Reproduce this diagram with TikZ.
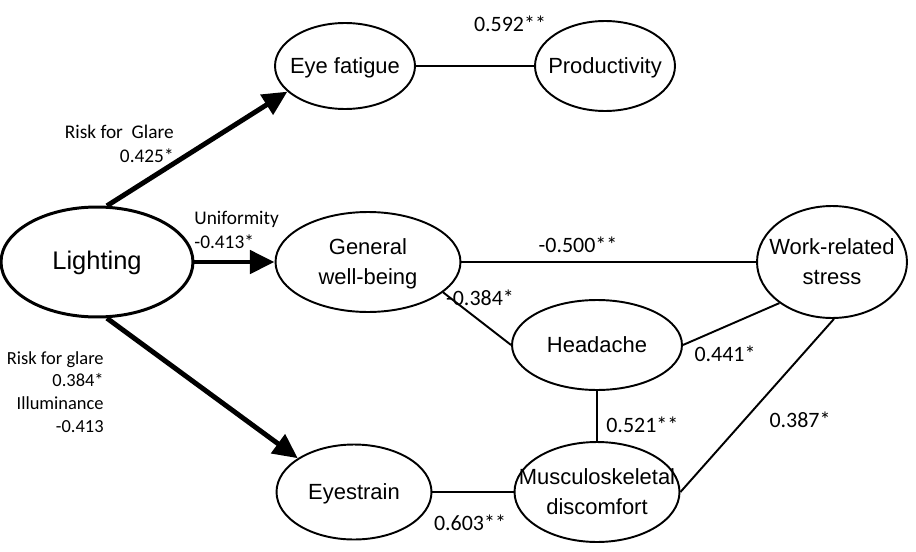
\documentclass[tikz,border=0pt]{standalone}
\usepackage{fontspec}
\setmainfont{Liberation Sans}
\newfontfamily\lblfont{Carlito}
\usepackage{tikz}
\usetikzlibrary{shapes,arrows.meta}
\newcommand{\ovaltext}[1]{\smash{\makebox[0pt]{\raisebox{-0.3em}{\begin{tabular}{@{}c@{}}#1\end{tabular}}}}}

\begin{document}
\begin{tikzpicture}[x=0.02cm, y=-0.02cm]
\tikzstyle{every node}=[inner sep=0pt]
\tikzstyle{oval}=[ellipse, draw, line width=1.1pt,
                  font=\fontsize{12.5}{17}\selectfont]
\tikzstyle{corr}=[line width=1.1pt]
\tikzstyle{effect}=[line width=2.8pt, -{Triangle[length=14pt,width=13pt]}]
\tikzstyle{coef}=[font=\lblfont\fontsize{12.5}{14}\selectfont]
\tikzstyle{coefsmall}=[font=\lblfont\fontsize{11}{13.5}\selectfont]
\useasboundingbox (0,0) rectangle (916,551);
\node[oval, line width=1.7pt, minimum width=3.84cm, minimum height=2.2cm,
      font=\fontsize{14.5}{17}\selectfont] (L) at (97,262) {\ovaltext{Lighting}};
\node[oval, minimum width=2.8cm, minimum height=1.72cm] (EF) at (345,66) {\ovaltext{Eye fatigue}};
\node[oval, minimum width=2.8cm, minimum height=1.8cm] (P) at (605,66) {\ovaltext{Productivity}};
\node[oval, minimum width=3.7cm, minimum height=2cm] (G) at (368,262) {\ovaltext{General\\well-being}};
\node[oval, minimum width=3cm, minimum height=2.24cm] (S) at (832,262) {\ovaltext{Work-related\\stress}};
\node[oval, minimum width=3.4cm, minimum height=1.8cm] (H) at (597,345) {\ovaltext{Headache}};
\node[oval, minimum width=3.1cm, minimum height=1.9cm] (E) at (354,492) {\ovaltext{Eyestrain}};
\node[oval, minimum width=3.3cm, minimum height=2cm] (M) at (597,492) {\ovaltext{Musculoskeletal\\discomfort}};
% effects of lighting
\draw[effect] (L.80) -- (EF.204);
\draw[effect] (L.east) -- (G.west);
\draw[effect] (L.-80) -- (E.149);
% correlations
\draw[corr] (EF) -- (P);
\draw[corr] (G.east) -- (S.west);
\draw[corr] (G.-22) -- (H.west);
\draw[corr] (H.east) -- (S.218);
\draw[corr] (H.south) -- (M.north);
\draw[corr] (M.east) -- (S.-88);
\draw[corr] (E.east) -- (M.west);
% coefficients
\node[coef] (c1) at (510,24) {0.592**};
\node[coefsmall, align=right, anchor=east] (c2) at (174,144) {Risk for\ \ Glare\\0.425*};
\node[coefsmall, align=left, anchor=west] (c3) at (194,230) {Uniformity\\-0.413*};
\node[coefsmall, font=\lblfont\fontsize{10.5}{13}\selectfont, align=right, anchor=east] (c4) at (104,392) {Risk for glare\\0.384*\\Illuminance\\-0.413};
\node[coef] (c5) at (578,245) {-0.500**};
\node[coef] (c6) at (480,298) {-0.384*};
\node[coef] (c7) at (725,354) {0.441*};
\node[coef, anchor=west] (c8) at (606,425) {0.521**};
\node[coef] (c9) at (800,420) {0.387*};
\node[coef] (c10) at (470,523) {0.603**};
\end{tikzpicture}
\end{document}
